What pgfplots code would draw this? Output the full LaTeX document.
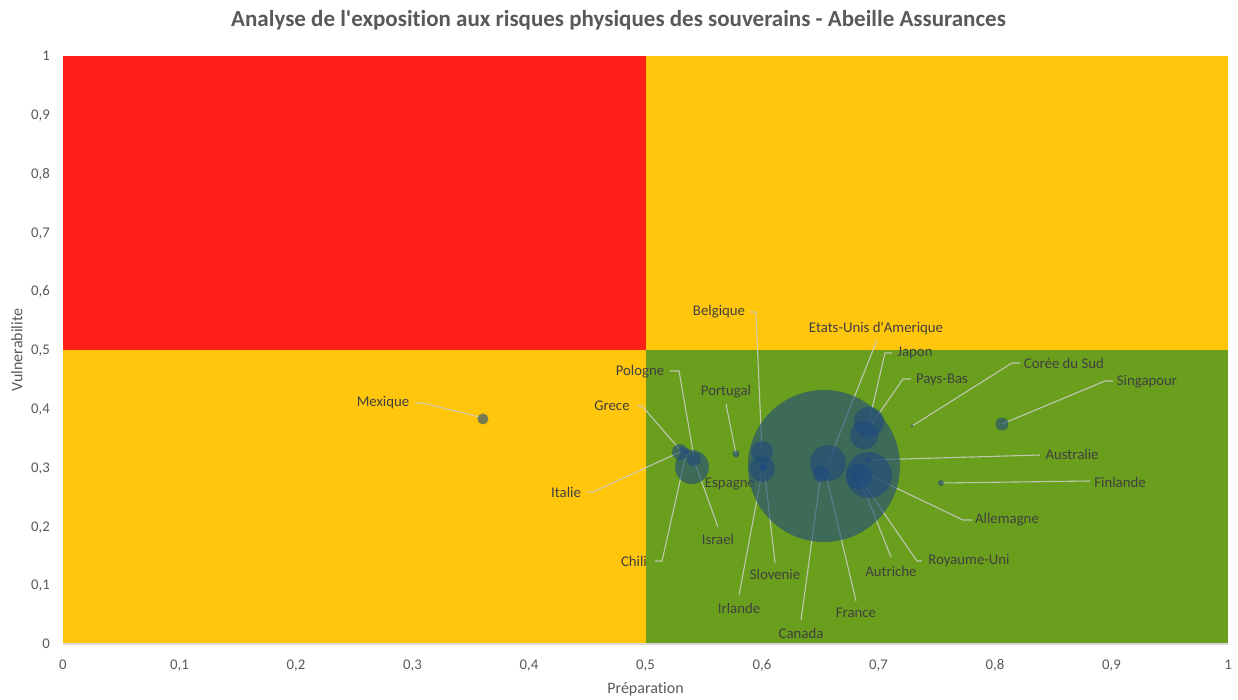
\documentclass[border=0pt]{standalone}
\usepackage{fontspec}
\setmainfont{Carlito}
\newfontfamily\carl{Carlito}[Ligatures=NoCommon]
\usepackage{pgfplots}
\usepackage{pgfplotstable}
\pgfplotsset{compat=1.18}

\definecolor{qred}{RGB}{255,32,26}
\definecolor{qyellow}{RGB}{255,198,12}
\definecolor{qgreen}{RGB}{106,159,30}
\definecolor{bub}{RGB}{31,73,125}
\definecolor{lead}{RGB}{205,205,205}
\definecolor{labtxt}{RGB}{64,64,64}
\definecolor{axtxt}{RGB}{89,89,89}
\definecolor{axline}{RGB}{217,217,217}

% bubbles: x = preparation, y = vulnerabilite, r = bubble radius (pt)
\pgfplotstableread{
name x y r
France 0.6532 0.3027 76
EtatsUnis 0.6567 0.3078 18
Canada 0.6506 0.2891 8
Japon 0.6918 0.3776 15
PaysBas 0.6876 0.3554 14
Allemagne 0.6918 0.2874 23
Australie 0.6910 0.3129 3
RoyaumeUni 0.6833 0.2857 13
Autriche 0.6825 0.2840 6
Belgique 0.6000 0.3265 11
Espagne 0.6000 0.2976 13
Irlande 0.6009 0.3010 4
Slovenie 0.6017 0.3010 3
Portugal 0.5777 0.3231 3.5
Italie 0.5296 0.3265 8
Grece 0.5313 0.3299 3
Chili 0.5356 0.3282 3
Pologne 0.5416 0.3146 7
Israel 0.5399 0.3010 17
Mexique 0.3605 0.3827 5.5
CoreeDuSud 0.7288 0.3707 1.5
Singapour 0.8060 0.3741 6.5
Finlande 0.7536 0.2738 3
}\bubbles

\begin{document}
\begin{tikzpicture}
\begin{axis}[
  name=ax, at={(0,0)}, anchor=south west,
  scale only axis, width=1165pt, height=588pt,
  xmin=0, xmax=1, ymin=0, ymax=1,
  axis on top,
  axis x line*=bottom, axis y line*=left,
  x axis line style={draw=axline, line width=1.5pt, -},
  y axis line style={draw=none, -},
  major tick length=0pt,
  xtick={0,0.1,0.2,0.3,0.4,0.5,0.6,0.7,0.8,0.9,1},
  ytick={0,0.1,0.2,0.3,0.4,0.5,0.6,0.7,0.8,0.9,1},
  /pgf/number format/use comma,
  /pgf/number format/assume math mode=true,
  tick label style={font=\carl\fontsize{14.8}{16}\selectfont, text=axtxt, inner sep=0pt, text height=9.3pt, text depth=0pt},
  xticklabel style={anchor=center, yshift=-21pt},
  yticklabel style={anchor=east, xshift=-13pt},
  xlabel={Préparation},
  ylabel={Vulnerabilite},
  label style={font=\carl\fontsize{16}{18}\selectfont, text=axtxt},
  xlabel style={at={(axis description cs:0.5,0)}, anchor=center, yshift=-45pt},
  ylabel style={at={(axis description cs:0,0.5)}, anchor=center, yshift=46pt},
  clip=false,
]
% quadrants
\addplot[fill=qred, draw=none] coordinates {(0,0.5) (0.5,0.5) (0.5,1) (0,1)} -- cycle;
\addplot[fill=qyellow, draw=none] coordinates {(0.5,0.5) (1,0.5) (1,1) (0.5,1)} -- cycle;
\addplot[fill=qyellow, draw=none] coordinates {(0,0) (0.5,0) (0.5,0.5) (0,0.5)} -- cycle;
\addplot[fill=qgreen, draw=none] coordinates {(0.5,0) (1,0) (1,0.5) (0.5,0.5)} -- cycle;

% bubbles
\addplot[scatter, only marks, mark=*,
  scatter/use mapped color={draw=bub, draw opacity=0, line width=0pt, fill=bub, fill opacity=0.6},
  visualization depends on={\thisrow{r} \as \rad},
  scatter/@pre marker code/.append style={/tikz/mark size=\rad pt}]
  table[x=x, y=y] {\bubbles};

% leader lines
\addplot[lead, line width=1.1pt, opacity=0.85] coordinates {(0.5897,0.5646) (0.5948,0.5646) (0.6000,0.3265)};
\addplot[lead, line width=1.1pt, opacity=0.85] coordinates {(0.6987,0.5170) (0.6567,0.3078)};
\addplot[lead, line width=1.1pt, opacity=0.85] coordinates {(0.7116,0.4949) (0.7056,0.4949) (0.6918,0.3776)};
\addplot[lead, line width=1.1pt, opacity=0.85] coordinates {(0.7279,0.4507) (0.7210,0.4507) (0.6876,0.3554)};
\addplot[lead, line width=1.1pt, opacity=0.85] coordinates {(0.8215,0.4779) (0.8146,0.4779) (0.7288,0.3707)};
\addplot[lead, line width=1.1pt, opacity=0.85] coordinates {(0.9013,0.4473) (0.8944,0.4473) (0.8060,0.3741)};
\addplot[lead, line width=1.1pt, opacity=0.85] coordinates {(0.8386,0.3214) (0.6910,0.3129)};
\addplot[lead, line width=1.1pt, opacity=0.85] coordinates {(0.8815,0.2772) (0.7536,0.2738)};
\addplot[lead, line width=1.1pt, opacity=0.85] coordinates {(0.7803,0.2109) (0.7725,0.2109) (0.6918,0.2874)};
\addplot[lead, line width=1.1pt, opacity=0.85] coordinates {(0.7373,0.1412) (0.7330,0.1412) (0.6833,0.2840)};
\addplot[lead, line width=1.1pt, opacity=0.85] coordinates {(0.7107,0.1480) (0.6833,0.2840)};
\addplot[lead, line width=1.1pt, opacity=0.85] coordinates {(0.6807,0.0731) (0.6532,0.3027)};
\addplot[lead, line width=1.1pt, opacity=0.85] coordinates {(0.6335,0.0408) (0.6506,0.2891)};
\addplot[lead, line width=1.1pt, opacity=0.85] coordinates {(0.5803,0.0833) (0.6009,0.3010)};
\addplot[lead, line width=1.1pt, opacity=0.85] coordinates {(0.6112,0.1378) (0.6017,0.3010)};
\addplot[lead, line width=1.1pt, opacity=0.85] coordinates {(0.5622,0.1990) (0.5425,0.3078)};
\addplot[lead, line width=1.1pt, opacity=0.85] coordinates {(0.5082,0.1412) (0.5142,0.1412) (0.5356,0.3299)};
\addplot[lead, line width=1.1pt, opacity=0.85] coordinates {(0.4498,0.2585) (0.4549,0.2585) (0.5296,0.3265)};
\addplot[lead, line width=1.1pt, opacity=0.85] coordinates {(0.4927,0.4048) (0.4970,0.4048) (0.5313,0.3265)};
\addplot[lead, line width=1.1pt, opacity=0.85] coordinates {(0.5210,0.4643) (0.5288,0.4643) (0.5416,0.3180)};
\addplot[lead, line width=1.1pt, opacity=0.85] coordinates {(0.5691,0.4082) (0.5777,0.3231)};
\addplot[lead, line width=1.1pt, opacity=0.85] coordinates {(0.3021,0.4099) (0.3082,0.4099) (0.3579,0.3861)};

% data labels
\begin{scope}[every node/.style={font=\carl\fontsize{14.8}{16}\selectfont, text=labtxt, inner sep=0pt, anchor=center}]
\node at (axis cs:0.5631,0.5646) {Belgique};
\node at (axis cs:0.6979,0.5357) {Etats-Unis d'Amerique};
\node at (axis cs:0.7313,0.4949) {Japon};
\node at (axis cs:0.7545,0.4490) {Pays-Bas};
\node at (axis cs:0.8592,0.4779) {Corée du Sud};
\node at (axis cs:0.9305,0.4456) {Singapour};
\node at (axis cs:0.8661,0.3231) {Australie};
\node at (axis cs:0.9073,0.2755) {Finlande};
\node at (axis cs:0.8103,0.2109) {Allemagne};
\node at (axis cs:0.7777,0.1412) {Royaume-Uni};
\node at (axis cs:0.7107,0.1241) {Autriche};
\node at (axis cs:0.6807,0.0527) {France};
\node at (axis cs:0.6335,0.0187) {Canada};
\node at (axis cs:0.5803,0.0612) {Irlande};
\node at (axis cs:0.6112,0.1190) {Slovenie};
\node at (axis cs:0.5622,0.1786) {Israel};
\node at (axis cs:0.4901,0.1412) {Chili};
\node at (axis cs:0.4318,0.2585) {Italie};
\node at (axis cs:0.4712,0.4048) {Grece};
\node at (axis cs:0.4953,0.4626) {Pologne};
\node at (axis cs:0.5691,0.4286) {Portugal};
\node at (axis cs:0.5725,0.2721) {Espagne};
\node at (axis cs:0.2747,0.4099) {Mexique};
\end{scope}

\node[font=\carl\fontsize{23}{26}\selectfont\bfseries, text=axtxt, anchor=center, yshift=36pt] at (axis description cs:0.4768,1) {Analyse de l'exposition aux risques physiques des souverains - Abeille Assurances};
\end{axis}
\path (-63pt,-51pt) rectangle (1175pt,644pt);
\end{tikzpicture}
\end{document}
